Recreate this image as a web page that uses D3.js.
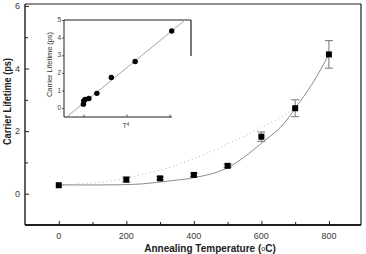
<!DOCTYPE html>
<html><head><meta charset="utf-8">
<script src="https://cdn.jsdelivr.net/npm/d3@7"></script>
<style>
html,body{margin:0;padding:0;background:#fff;}
svg{display:block;font-family:"Liberation Sans",Arial,sans-serif;}
</style></head>
<body>
<svg id="c" width="366" height="254"></svg>
<script>
// ---- main data ----
const temps = [0, 200, 300, 400, 500, 600, 700, 800];
const lifetimes = [0.27, 0.45, 0.49, 0.60, 0.89, 1.82, 2.73, 4.45];
const errors = [0, 0.08, 0.05, 0.05, 0.05, 0.15, 0.27, 0.44];
// fitted curve (solid)
const fitT = [0, 130, 225, 329, 400, 500, 600, 675, 700, 750, 800];
const fitV = [0.28, 0.28, 0.30, 0.41, 0.51, 0.83, 1.61, 2.35, 2.73, 3.5, 4.45];
// dotted curve
const dotT = [0, 71, 136, 234, 329, 427, 526, 625, 684, 700];
const dotV = [0.27, 0.32, 0.38, 0.58, 0.84, 1.24, 1.72, 2.25, 2.62, 2.78];
const xTicks = [0, 200, 400, 600, 800];
const xMinor = [100, 300, 500, 700];
const yTicks = [0, 2, 4, 6];
const yMinor = [-1, 1, 3, 5];
// ---- inset data ----
const t4 = [0, 16, 81, 256, 625, 1296, 2401, 4096];
const insetV = [0.23, 0.41, 0.49, 0.55, 0.84, 1.74, 2.65, 4.38];
const insetFitX = [-780, 4720];
const insetFitV = [-0.5, 5.0];
const insetYTicks = [0, 1, 2, 3, 4, 5];
const insetXTicks = [0, 2000, 4000];

const svg = d3.select("#c");
const axisCol = "#1e1e1e";

// main scales
const x = d3.scaleLinear().domain([-100, 895]).range([25, 361]);
const y = d3.scaleLinear().domain([-1, 6.06]).range([225, 4]);

// frame
const g = svg.append("g");
g.append("line").attr("x1", 25).attr("x2", 361).attr("y1", 4).attr("y2", 4).attr("stroke", axisCol).attr("stroke-width", 1.2);
g.append("line").attr("x1", 361).attr("x2", 361).attr("y1", 4).attr("y2", 225).attr("stroke", axisCol).attr("stroke-width", 1.2);
g.append("line").attr("x1", 25).attr("x2", 25).attr("y1", 4).attr("y2", 225).attr("stroke", axisCol).attr("stroke-width", 1.4);
g.append("line").attr("x1", 25).attr("x2", 361).attr("y1", 225).attr("y2", 225).attr("stroke", axisCol).attr("stroke-width", 1.8);

// axes via d3
const xAx = g.append("g").attr("transform", "translate(0,225)").call(d3.axisTop(x).tickValues(xTicks).tickSize(4).tickFormat(""));
const xAxM = g.append("g").attr("transform", "translate(0,225)").call(d3.axisTop(x).tickValues(xMinor).tickSize(3).tickFormat(""));
const yAx = g.append("g").attr("transform", "translate(25,0)").call(d3.axisRight(y).tickValues(yTicks).tickSize(4).tickFormat(""));
const yAxM = g.append("g").attr("transform", "translate(25,0)").call(d3.axisRight(y).tickValues(yMinor).tickSize(3).tickFormat(""));
[xAx, xAxM, yAx, yAxM].forEach(a => {
  a.select(".domain").remove();
  a.selectAll("line").attr("stroke", axisCol).attr("stroke-width", 1);
});

// tick labels
g.selectAll(".xl").data(xTicks).enter().append("text")
  .attr("x", d => x(d)).attr("y", 239).attr("text-anchor", "middle")
  .attr("font-size", 9).attr("fill", "#3a3a3a").text(d => d);
g.selectAll(".yl").data(yTicks).enter().append("text")
  .attr("x", 20).attr("y", d => y(d) + 3.2).attr("text-anchor", "end")
  .attr("font-size", 9).attr("fill", "#3a3a3a").text(d => d);

// titles
const xt = g.append("text").attr("x", 210).attr("y", 252).attr("text-anchor", "middle")
  .attr("font-size", 10).attr("font-weight", "bold").attr("fill", "#222");
xt.append("tspan").text("Annealing Temperature (");
xt.append("tspan").attr("font-size", 7).attr("font-weight", "normal").attr("dy", -1).text("o");
xt.append("tspan").attr("dy", 1).text("C)");
g.append("text").attr("transform", "translate(10.5,101.5) rotate(-90)").attr("text-anchor", "middle")
  .attr("font-size", 10).attr("font-weight", "bold").attr("fill", "#222")
  .attr("textLength", 87).attr("lengthAdjust", "spacingAndGlyphs")
  .text("Carrier Lifetime (ps)");

// curves
const line = d3.line().x(d => x(d[0])).y(d => y(d[1])).curve(d3.curveMonotoneX);
g.append("path").datum(d3.zip(dotT, dotV)).attr("d", line)
  .attr("fill", "none").attr("stroke", "#aaa").attr("stroke-width", 0.9).attr("stroke-dasharray", "1,3");
g.append("path").datum(d3.zip(fitT, fitV)).attr("d", line)
  .attr("fill", "none").attr("stroke", "#8a8a8a").attr("stroke-width", 1);

// error bars
const pts = d3.zip(temps, lifetimes, errors);
const eb = g.selectAll(".eb").data(pts.filter(d => d[2] > 0)).enter().append("g");
eb.append("line").attr("x1", d => x(d[0])).attr("x2", d => x(d[0]))
  .attr("y1", d => y(d[1] + d[2])).attr("y2", d => y(d[1] - d[2])).attr("stroke", "#777").attr("stroke-width", 1);
eb.append("line").attr("x1", d => x(d[0]) - 4).attr("x2", d => x(d[0]) + 4)
  .attr("y1", d => y(d[1] + d[2])).attr("y2", d => y(d[1] + d[2])).attr("stroke", "#777").attr("stroke-width", 1);
eb.append("line").attr("x1", d => x(d[0]) - 4).attr("x2", d => x(d[0]) + 4)
  .attr("y1", d => y(d[1] - d[2])).attr("y2", d => y(d[1] - d[2])).attr("stroke", "#777").attr("stroke-width", 1);

// squares
g.selectAll(".sq").data(pts).enter().append("rect")
  .attr("x", d => x(d[0]) - 3).attr("y", d => y(d[1]) - 3)
  .attr("width", 6).attr("height", 6).attr("fill", "#000");

// ---- inset ----
const ix = d3.scaleLinear().domain([-900, 4096]).range([64, 171.7]);
const iy = d3.scaleLinear().domain([-0.5, 5.0]).range([117, 20]);
const ig = svg.append("g");
ig.append("rect").attr("x", 64).attr("y", 20).attr("width", 128).attr("height", 97).attr("fill", "#fff");
ig.append("line").attr("x1", 64).attr("x2", 64).attr("y1", 20).attr("y2", 117).attr("stroke", axisCol).attr("stroke-width", 1);
ig.append("line").attr("x1", 64).attr("x2", 172).attr("y1", 117).attr("y2", 117).attr("stroke", axisCol).attr("stroke-width", 1.2);
ig.append("line").attr("x1", 64).attr("x2", 191).attr("y1", 20).attr("y2", 20).attr("stroke", axisCol).attr("stroke-width", 1);
ig.append("line").attr("x1", 191).attr("x2", 191).attr("y1", 20).attr("y2", 56).attr("stroke", axisCol).attr("stroke-width", 1.2);

const iyAx = ig.append("g").attr("transform", "translate(64,0)").call(d3.axisLeft(iy).tickValues(insetYTicks).tickSize(2).tickFormat(""));
const ixAx = ig.append("g").attr("transform", "translate(0,117)").call(d3.axisTop(ix).tickValues(insetXTicks).tickSize(2.5).tickFormat(""));
[iyAx, ixAx].forEach(a => { a.select(".domain").remove(); a.selectAll("line").attr("stroke", "#333").attr("stroke-width", 0.8); });

ig.selectAll(".iyl").data(insetYTicks).enter().append("text")
  .attr("x", 61).attr("y", d => iy(d) + 2.2).attr("text-anchor", "end")
  .attr("font-size", 6.5).attr("fill", "#444").text(d => d);
ig.append("text").attr("transform", "translate(52,64.5) rotate(-90)").attr("text-anchor", "middle")
  .attr("font-size", 6.5).attr("fill", "#333").attr("textLength", 65).attr("lengthAdjust", "spacingAndGlyphs")
  .text("Carrier Lifetime (ps)");
const tl = ig.append("text").attr("x", 126).attr("y", 128).attr("text-anchor", "middle")
  .attr("font-size", 6.5).attr("fill", "#333");
tl.append("tspan").text("T");
tl.append("tspan").attr("font-size", 4.5).attr("dy", -2.5).text("4");

ig.append("clipPath").attr("id", "ic").append("rect").attr("x", 64).attr("y", 20).attr("width", 128).attr("height", 97);
ig.append("path").datum(d3.zip(insetFitX, insetFitV))
  .attr("d", d3.line().x(d => ix(d[0])).y(d => iy(d[1])))
  .attr("clip-path", "url(#ic)")
  .attr("fill", "none").attr("stroke", "#999").attr("stroke-width", 0.9);
ig.selectAll(".ip").data(d3.zip(t4, insetV)).enter().append("circle")
  .attr("cx", d => ix(d[0])).attr("cy", d => iy(d[1])).attr("r", 2.7).attr("fill", "#000");
</script>
</body></html>
